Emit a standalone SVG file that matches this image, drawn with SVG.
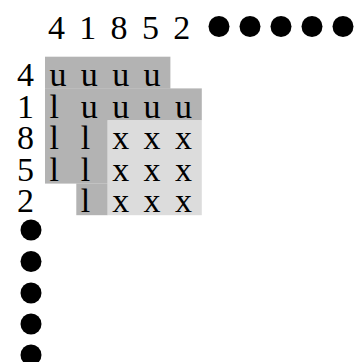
<svg xmlns="http://www.w3.org/2000/svg" width="355" height="362" viewBox="0 0 355 362">
<style>
text{font-family:"Liberation Serif","Times New Roman",serif;font-size:34px;fill:#000}
.d{fill:#b3b3b3}
.l{fill:#dcdcdc}
</style>
<rect width="355" height="362" fill="#fff"/>
<g id="shading">
<rect class="d" x="45" y="56.7" width="125.4" height="32"/>
<rect class="d" x="45" y="88.4" width="156.8" height="31.8"/>
<rect class="d" x="45" y="120" width="62.7" height="63.6"/>
<rect class="d" x="76.3" y="183.5" width="31.4" height="31.7"/>
<rect class="l" x="107.7" y="120" width="94.1" height="95.2"/>
</g>
<g id="header">
<text x="47.9" y="39">4</text>
<text x="79.2" y="39">1</text>
<text x="110.6" y="39">8</text>
<text x="141.9" y="39">5</text>
<text x="173.3" y="39">2</text>
<circle cx="219" cy="26.5" r="10.5"/>
<circle cx="250" cy="26.5" r="10.5"/>
<circle cx="281" cy="26.5" r="10.5"/>
<circle cx="312" cy="26.5" r="10.5"/>
<circle cx="343" cy="26.5" r="10.5"/>
</g>
<g id="rowlabels">
<text x="16.9" y="86">4</text>
<text x="16.9" y="117.6">1</text>
<text x="16.9" y="149.2">8</text>
<text x="16.9" y="180.8">5</text>
<text x="16.9" y="212.4">2</text>
<circle cx="31" cy="230" r="10.5"/>
<circle cx="31" cy="261.5" r="10.5"/>
<circle cx="31" cy="293" r="10.5"/>
<circle cx="31" cy="324" r="10.5"/>
<circle cx="31" cy="355" r="10.5"/>
</g>
<g id="cells">
<text x="49.5" y="86">u</text>
<text x="80.8" y="86">u</text>
<text x="112.2" y="86">u</text>
<text x="143.5" y="86">u</text>
<text x="49.5" y="117.6">l</text>
<text x="80.8" y="117.6">u</text>
<text x="112.2" y="117.6">u</text>
<text x="143.5" y="117.6">u</text>
<text x="174.9" y="117.6">u</text>
<text x="49.5" y="149.2">l</text>
<text x="80.8" y="149.2">l</text>
<text x="112.2" y="149.2">x</text>
<text x="143.5" y="149.2">x</text>
<text x="174.9" y="149.2">x</text>
<text x="49.5" y="180.8">l</text>
<text x="80.8" y="180.8">l</text>
<text x="112.2" y="180.8">x</text>
<text x="143.5" y="180.8">x</text>
<text x="174.9" y="180.8">x</text>
<text x="80.8" y="212.4">l</text>
<text x="112.2" y="212.4">x</text>
<text x="143.5" y="212.4">x</text>
<text x="174.9" y="212.4">x</text>
</g>
</svg>
